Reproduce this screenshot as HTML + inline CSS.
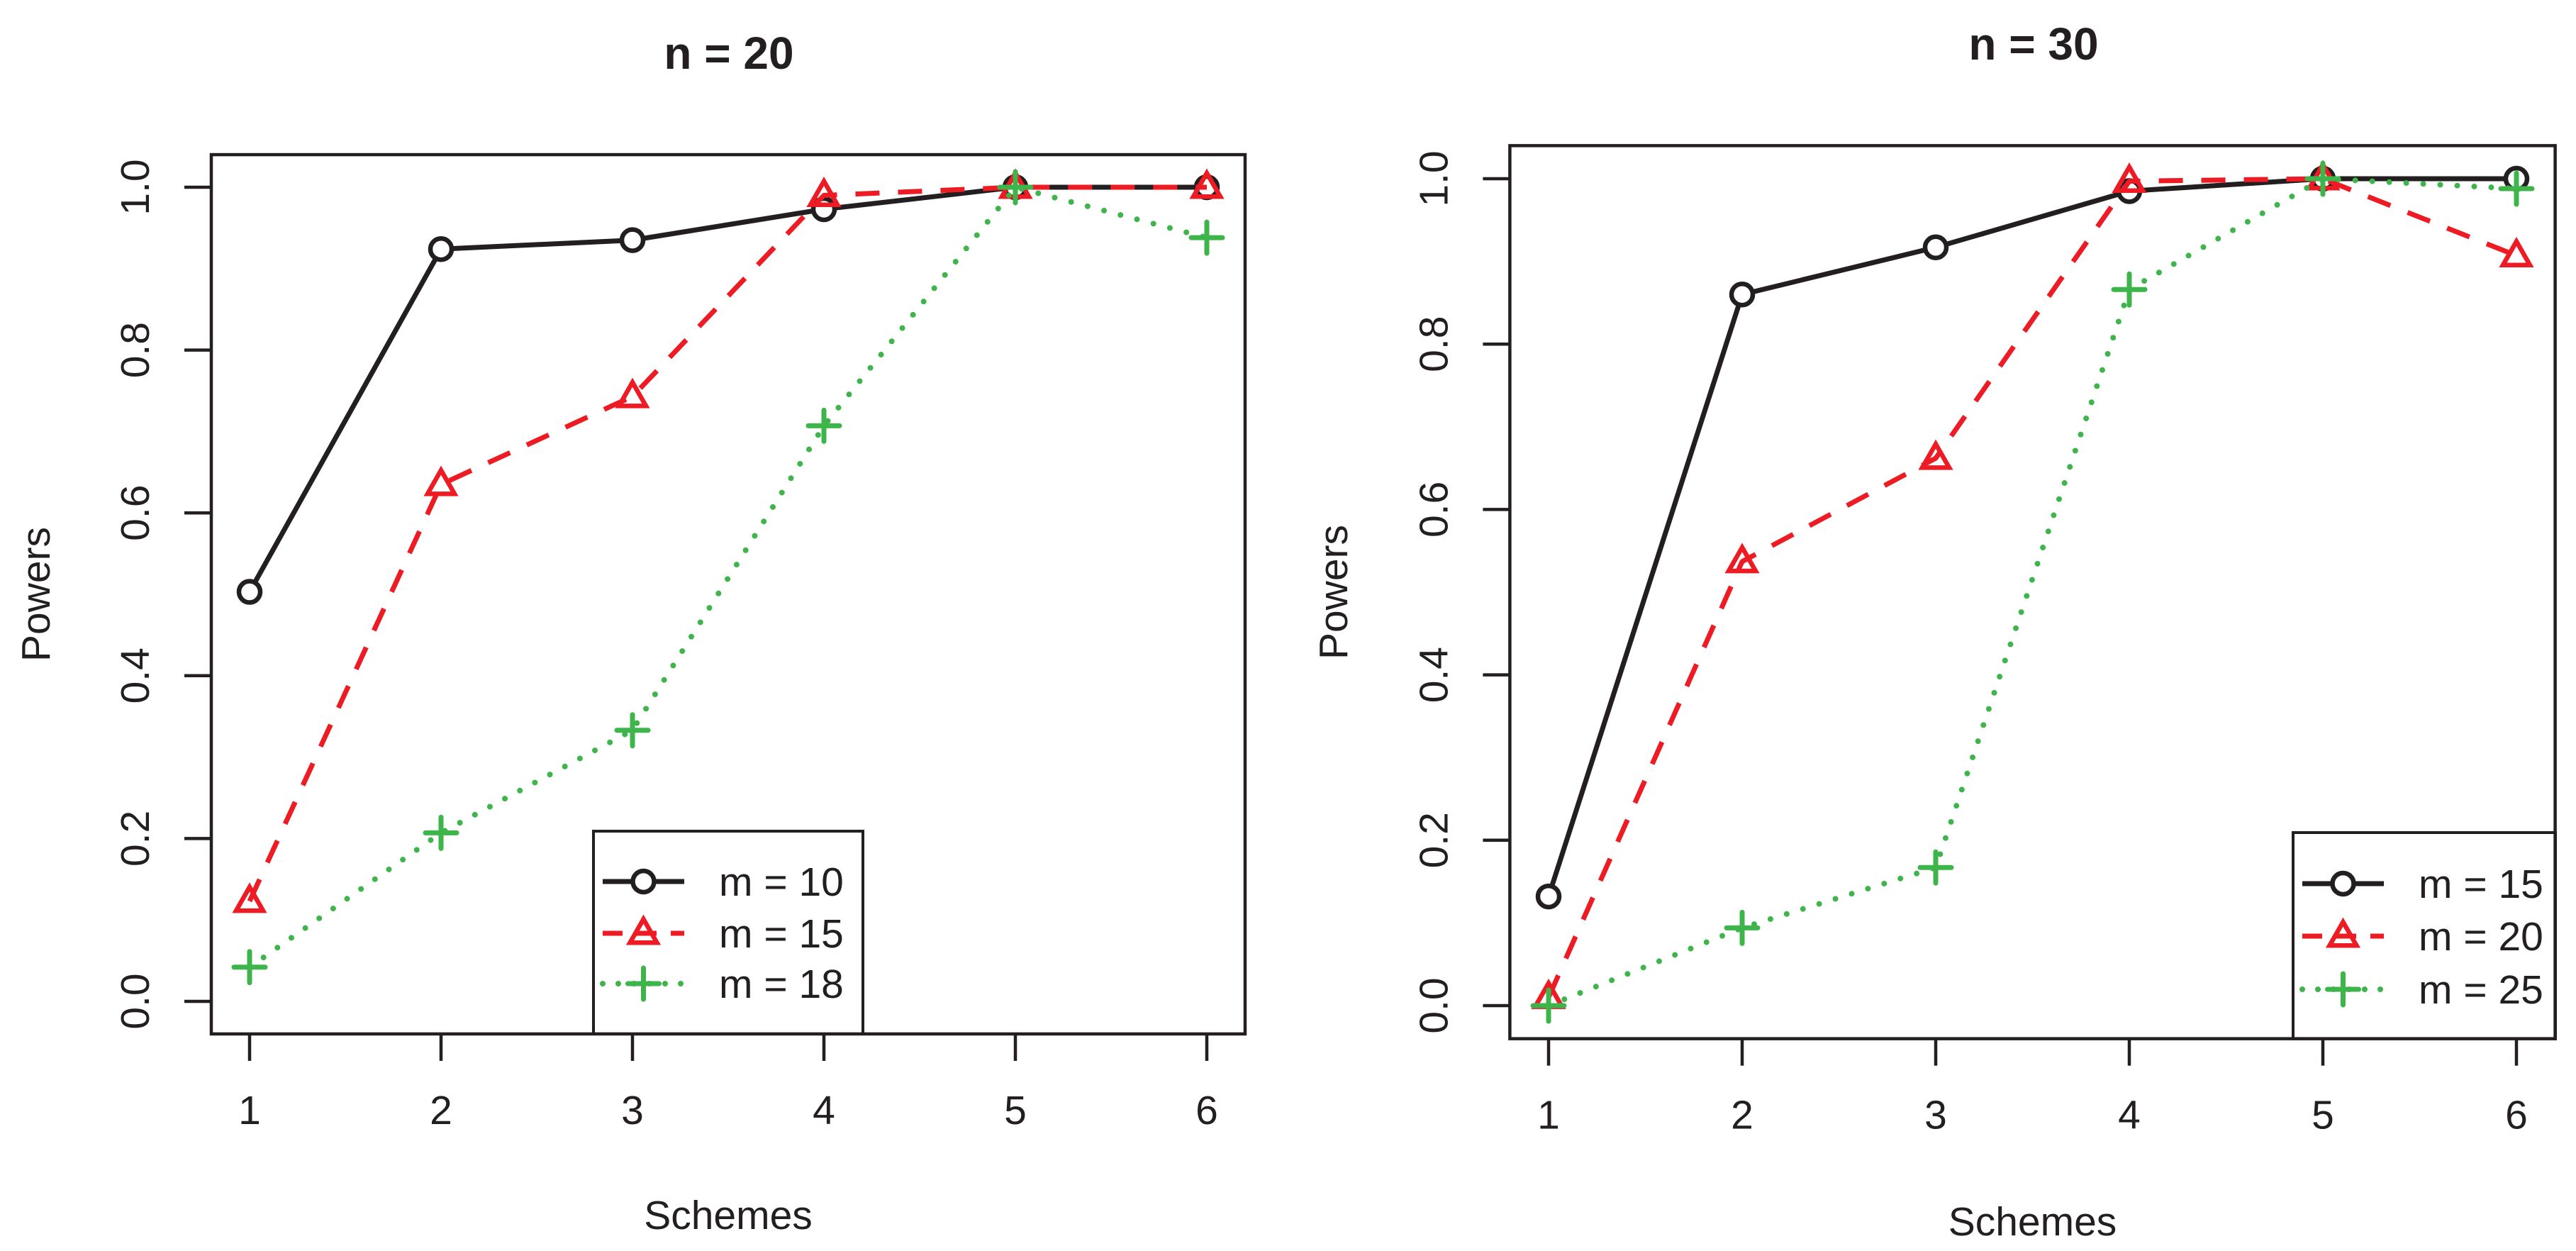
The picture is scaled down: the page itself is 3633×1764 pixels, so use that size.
<!DOCTYPE html>
<html><head><meta charset="utf-8"><style>
html,body{margin:0;padding:0;background:#fff;}
svg{display:block;font-family:"Liberation Sans",Arial,sans-serif;}
</style></head><body>
<svg id="chart" width="3633" height="1764" viewBox="0 0 3633 1764" xmlns="http://www.w3.org/2000/svg"></svg>
<script>
const schemes = [1,2,3,4,5,6];
const yTicks = [0,0.2,0.4,0.6,0.8,1.0];
const yTickLabels = ["0.0","0.2","0.4","0.6","0.8","1.0"];
const leftTitle = "n = 20";
const rightTitle = "n = 30";
const leftLabels = ["m = 10","m = 15","m = 18"];
const rightLabels = ["m = 15","m = 20","m = 25"];
const left_m10 = [0.503,0.924,0.935,0.973,1.0,1.0];
const left_m15 = [0.123,0.635,0.743,0.990,1.0,1.0];
const left_m18 = [0.042,0.207,0.333,0.707,1.0,0.938];
const right_m15 = [0.132,0.860,0.917,0.985,1.0,1.0];
const right_m20 = [0.010,0.537,0.662,0.997,1.0,0.907];
const right_m25 = [0.000,0.094,0.167,0.866,1.0,0.988];

const NS="http://www.w3.org/2000/svg";
const svg=document.getElementById('chart');
const BLACK="#231f20", RED="#ed1c24", GREEN="#3db54a";
function mk(tag,attrs,parent){const e=document.createElementNS(NS,tag);for(const k in attrs)e.setAttribute(k,attrs[k]);(parent||svg).appendChild(e);return e;}

const styles=[
 {color:BLACK,dash:null,cap:"butt",sym:"circle"},
 {color:RED,dash:"34 26",cap:"butt",sym:"tri"},
 {color:GREEN,dash:"0 24",cap:"round",sym:"plus"}
];

function symbol(g,type,x,y,color){
  let e;
  if(type==="circle"){e=mk('circle',{cx:x,cy:y,r:15,fill:"#fff",stroke:color,'stroke-width':6.5},g);}
  else if(type==="tri"){const s=19;e=mk('polygon',{points:`${x},${y-s*1.05} ${x+s},${y+s*0.7} ${x-s},${y+s*0.7}`,fill:"none",stroke:color,'stroke-width':6.5,'stroke-linejoin':'miter'},g);}
  else {e=mk('path',{d:`M${x-22},${y}H${x+22}M${x},${y-22}V${y+22}`,stroke:color,'stroke-width':7,'stroke-linecap':'round',fill:'none'},g);}
  
  
  return e;
}

function panel(cfg){
  const g=mk('g',{});
  
  
  const xs=v=>cfg.x1+(v-1)*cfg.dx;
  const ys=v=>cfg.y0-v*cfg.dy;
  const L=xs(0.8),R=xs(6.2),T=ys(1.04),B=ys(-0.04);
  const t=mk('text',{x:cfg.titleX,y:cfg.titleY,'text-anchor':'middle','font-size':64,'font-weight':'bold',fill:BLACK},g);
  t.textContent=cfg.title;
  
  
  cfg.series.forEach((vals,i)=>{
    const st=styles[i];
    const d=vals.map((v,j)=>(j?'L':'M')+xs(schemes[j])+','+ys(v)).join('');
    const p=mk('path',{d:d,fill:'none',stroke:st.color,'stroke-width':st.cap==="round"?8:7,'stroke-linecap':st.cap,'stroke-linejoin':'round'},g);
    if(st.dash)p.setAttribute('stroke-dasharray',st.dash);
    
    
    vals.forEach((v,j)=>symbol(g,st.sym,xs(schemes[j]),ys(v),st.color));
  });
  const lg=mk('g',{},g);
  
  
  const lb=mk('rect',{x:cfg.legX,y:cfg.legTop,width:cfg.legRight-cfg.legX,height:B-cfg.legTop,fill:'#fff',stroke:BLACK,'stroke-width':4},lg);
  
  
  cfg.labels.forEach((lab,i)=>{
    const st=styles[i]; const y=cfg.legRows[i];
    const x0=cfg.legX+13,x1=x0+115;
    const ln=mk('line',{x1:x0,y1:y,x2:x1,y2:y,stroke:st.color,'stroke-width':st.cap==="round"?8:7,'stroke-linecap':st.cap},lg);
    if(st.dash)ln.setAttribute('stroke-dasharray',st.dash==="0 24"?"0 22":"28 20");
    
    
    symbol(lg,st.sym,(x0+x1)/2,y,st.color);
    const tx=mk('text',{x:cfg.legX+177,y:y+20,'font-size':57,fill:BLACK},lg);
    tx.textContent=lab;
    
    
  });
  const box=mk('rect',{x:L,y:T,width:R-L,height:B-T,fill:'none',stroke:BLACK,'stroke-width':4.5},g);
  
  
  schemes.forEach(s=>{
    const tk=mk('line',{x1:xs(s),y1:B,x2:xs(s),y2:B+38,stroke:BLACK,'stroke-width':4.5},g);
    
    
    const tl=mk('text',{x:xs(s),y:B+127,'text-anchor':'middle','font-size':57,fill:BLACK},g);
    tl.textContent=String(s);
    
    
  });
  yTicks.forEach((v,i)=>{
    const tk=mk('line',{x1:L-38,y1:ys(v),x2:L,y2:ys(v),stroke:BLACK,'stroke-width':4.5},g);
    
    
    const tx=L-88;
    const tl=mk('text',{x:tx,y:ys(v),'text-anchor':'middle','font-size':57,fill:BLACK,transform:`rotate(-90 ${tx} ${ys(v)})`},g);
    tl.textContent=yTickLabels[i];
    
    
  });
  const xt=mk('text',{x:(L+R)/2,y:cfg.xTitleY,'text-anchor':'middle','font-size':57,fill:BLACK},g);
  xt.textContent="Schemes";
  
  
  const yx=cfg.yTitleX, yy=(T+B)/2;
  const yt=mk('text',{x:yx,y:yy,'text-anchor':'middle','font-size':57,fill:BLACK,transform:`rotate(-90 ${yx} ${yy})`},g);
  yt.textContent="Powers";
  
  
}

panel({name:'left-panel',x1:352,dx:270,y0:1412,dy:1148,title:leftTitle,titleX:1028,titleY:97,
  series:[left_m10,left_m15,left_m18],labels:leftLabels,legX:837,legRight:1217,legTop:1172,legRows:[1243,1316,1387],
  xTitleY:1733,yTitleX:70});
panel({name:'right-panel',x1:2184,dx:273,y0:1418,dy:1166,title:rightTitle,titleX:2868,titleY:84,
  series:[right_m15,right_m20,right_m25],labels:rightLabels,legX:3234,legRight:3604,legTop:1174,legRows:[1246,1320,1395],
  xTitleY:1742,yTitleX:1900});
</script>
</body></html>
